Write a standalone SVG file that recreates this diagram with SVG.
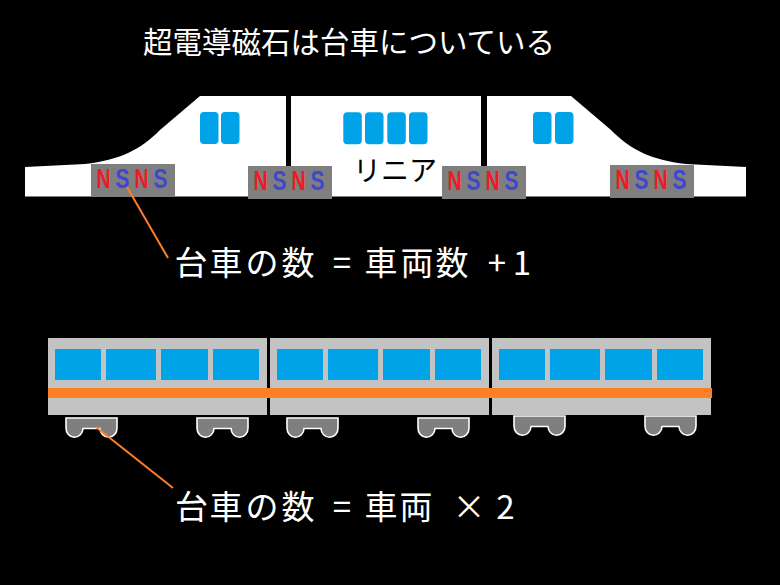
<svg xmlns="http://www.w3.org/2000/svg" xmlns:xlink="http://www.w3.org/1999/xlink" width="780" height="585" viewBox="0 0 780 585">
<style>
.jp{font-family:"Noto Sans CJK JP","Noto Sans CJK SC",sans-serif;}
.white{fill:#ffffff;}
.mcar{fill:#ffffff;}
.mwin{fill:#00A2E8;}
.mbog{fill:#7F7F7F;}
.n{fill:#ED1C24;font-family:"Liberation Sans",Arial,sans-serif;font-size:27px;font-weight:bold;}
.s{fill:#3F48CC;font-family:"Liberation Sans",Arial,sans-serif;font-size:27px;font-weight:bold;}
.car{fill:#C3C3C3;}
.win{fill:#00A2E8;}
.stripe{fill:#FF7F27;}
.bogie{fill:#7F7F7F;stroke:#ffffff;stroke-width:1.6;}
.conn{stroke:#FF7F27;stroke-width:2;fill:none;}
</style>
<defs>
<g id="mb">
<rect class="mbog" x="0" y="0" width="84" height="33"/>
<text class="n" x="5.5" y="24" textLength="14" lengthAdjust="spacingAndGlyphs">N</text>
<text class="s" x="24.5" y="24" textLength="14" lengthAdjust="spacingAndGlyphs">S</text>
<text class="n" x="43.5" y="24" textLength="14" lengthAdjust="spacingAndGlyphs">N</text>
<text class="s" x="62.5" y="24" textLength="14" lengthAdjust="spacingAndGlyphs">S</text>
</g>
<path id="lb" class="bogie" d="M0,0 H51 V10 A8.5,9 0 0 1 34,10.5 H17 A8.5,9 0 0 1 0,10 Z"/>
</defs>
<rect x="0" y="0" width="780" height="585" fill="#000000"/>

<g id="title">
<text class="jp white" x="143" y="53" font-size="29.5">超電導磁石は台車についている</text>
</g>

<g id="maglev-car1">
<path class="mcar" d="M25,167 L85,164 C120,160 140,150 160,130 L200,96 H286 V196.5 H25 Z"/>
<rect class="mwin" x="200" y="112" width="18.5" height="32" rx="4"/>
<rect class="mwin" x="221" y="112" width="18.5" height="32" rx="4"/>
</g>
<g id="maglev-car2">
<rect class="mcar" x="291" y="96" width="190" height="100.5"/>
<rect class="mwin" x="343.3" y="112.3" width="18.5" height="32" rx="4"/>
<rect class="mwin" x="365" y="112.3" width="18.5" height="32" rx="4"/>
<rect class="mwin" x="387.3" y="112.3" width="18.5" height="32" rx="4"/>
<rect class="mwin" x="409" y="112.3" width="18.5" height="32" rx="4"/>
<text class="jp" x="353" y="181" font-size="28" fill="#000000">リニア</text>
</g>
<g id="maglev-car3">
<path class="mcar" d="M746,167 L686,164 C651,160 631,150 611,130 L571,96 H487 V196.5 H746 Z"/>
<rect class="mwin" x="533" y="112" width="18.5" height="32" rx="4"/>
<rect class="mwin" x="555" y="112" width="18.5" height="32" rx="4"/>
</g>
<g id="maglev-bogie1"><use xlink:href="#mb" x="91" y="164"/></g>
<g id="maglev-bogie2"><use xlink:href="#mb" x="248" y="166"/></g>
<g id="maglev-bogie3"><use xlink:href="#mb" x="442" y="166"/></g>
<g id="maglev-bogie4"><use xlink:href="#mb" x="610" y="165"/></g>

<g id="formula1">
<text class="jp white" font-size="33" text-anchor="middle" y="275" x="191 226 262 298 320 342 361 381 417 452 475 497 510 522">台車の数 = 車両数 + 1</text>
</g>

<g id="train-car1">
<rect class="car" x="48" y="338" width="219" height="77"/>
<rect class="win" x="55" y="349" width="46" height="31"/>
<rect class="win" x="106" y="349" width="50" height="31"/>
<rect class="win" x="161" y="349" width="47" height="31"/>
<rect class="win" x="213" y="349" width="46" height="31"/>
</g>
<g id="train-car2">
<rect class="car" x="270" y="338" width="219" height="77"/>
<rect class="win" x="277" y="349" width="46" height="31"/>
<rect class="win" x="328" y="349" width="50" height="31"/>
<rect class="win" x="383" y="349" width="47" height="31"/>
<rect class="win" x="435" y="349" width="46" height="31"/>
</g>
<g id="train-car3">
<rect class="car" x="492" y="338" width="219" height="77"/>
<rect class="win" x="499" y="349" width="46" height="31"/>
<rect class="win" x="550" y="349" width="50" height="31"/>
<rect class="win" x="605" y="349" width="47" height="31"/>
<rect class="win" x="657" y="349" width="46" height="31"/>
</g>
<g id="train-stripe">
<rect class="stripe" x="48" y="388" width="664" height="10"/>
</g>
<g id="train-bogie1"><use xlink:href="#lb" x="66" y="418"/></g>
<g id="train-bogie2"><use xlink:href="#lb" x="197" y="418"/></g>
<g id="train-bogie3"><use xlink:href="#lb" x="287" y="418"/></g>
<g id="train-bogie4"><use xlink:href="#lb" x="418" y="418"/></g>
<g id="train-bogie5"><use xlink:href="#lb" x="514" y="416"/></g>
<g id="train-bogie6"><use xlink:href="#lb" x="645" y="416"/></g>

<g id="formula2">
<text class="jp white" font-size="33" text-anchor="middle" y="519" x="191.5 226 262 298 320 342 361 381 416 440 469 487 505.5">台車の数 = 車両 × 2</text>
</g>

<g id="connectors">
<line class="conn" x1="127" y1="187" x2="168" y2="258"/>
<line class="conn" x1="96" y1="427" x2="173" y2="488"/>
</g>
</svg>
